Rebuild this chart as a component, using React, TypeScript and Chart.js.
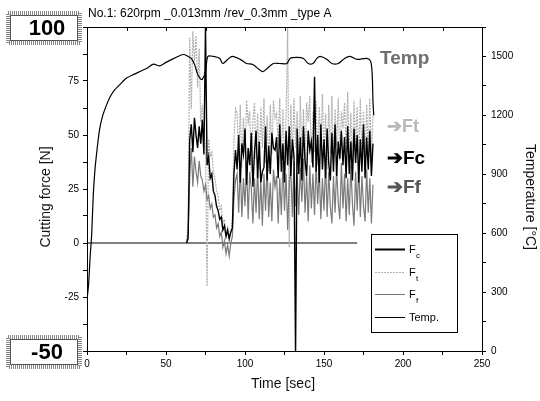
import React, { useEffect, useRef } from 'react';
import { Chart, registerables } from 'chart.js';

Chart.register(...registerables);

const FONT = "'Liberation Sans', Arial, sans-serif";

const chartTitle = 'No.1: 620rpm _0.013mm /rev_0.3mm _type A';
const xTitle = 'Time [sec]';
const yTitle = 'Cutting force [N]';
const y1Title = 'Temperature [°C]';

// Force time base (sec)
const forceTime = [
  63, 64, 65, 66, 67, 68, 69, 70, 71, 72, 73, 74, 75, 76, 77, 78, 79, 80, 81, 82,
  83, 84, 85, 86, 87, 88, 89, 90, 91, 92, 93, 94,
  95, 96, 97, 98, 99, 100, 101, 102, 103, 104,
  105, 106, 107, 108, 109, 110, 111, 112, 113, 114,
  115, 116, 117, 118, 119, 120, 121, 122, 123, 124,
  125, 126, 127, 128, 129, 130, 131, 132, 133, 134,
  135, 136, 137, 138, 139, 140, 141, 142, 143, 144,
  145, 146, 147, 148, 149, 150, 151, 152, 153, 154,
  155, 156, 157, 158, 159, 160, 161, 162, 163, 164,
  165, 166, 167, 168, 169, 170, 171, 172, 173, 174,
  175, 176, 177, 178, 179, 180, 181,
];

const fcValues = [
  0, 2, 48, 55, 42, 58, 50, 44, 54, 46, 57, 41, 100, 36, 40, 30, 32, 24, 22, 17,
  15, 11, 12, 6, 8, 3, 6, 2, 5, 7, 32, 43,
  34, 50, 28, 46, 41, 53, 27, 44, 36, 51,
  26, 42, 52, 30, 47, 28, 33, 35, 54, 29,
  45, 32, 51, 44, 43, 49, 30, 55, 33, 46,
  28, 52, 36, 54, 31, 48, 40, -52, 53, 32,
  49, 29, 54, 38, 31, 52, 43, 47, 35, 77,
  33, 50, 28, 55, 34, 48, 30, 53, 37, 29,
  51, 33, 55, 31, 47, 39, 52, 36, 49, 30,
  54, 32, 47, 29, 53, 37, 50, 28, 48, 33,
  55, 30, 49, 34, 52, 31, 46,
];

const ftValues = [
  0, 10, 95, 62, 98, 84, 96, 72, 90, 56, 64, 50, 45, -20, 48, 40, 42, 33, 30, 24,
  22, 15, 17, 9, 11, 4, 7, 1, 5, 10, 48, 62,
  60, 38, 64, 35, 58, 42, 66, 56, 61, 33,
  57, 65, 39, 60, 34, 63, 44, 67, 37, 59,
  33, 64, 41, 66, 58, 60, 45, 67, 38, 62,
  35, 59, 100, -2, 64, 39, 67, 44, 61, 35,
  68, 40, 62, 34, 65, 56, 68, 37, 61, 42,
  66, 36, 63, 43, 69, 38, 60, 34, 64, 41,
  68, 37, 62, 45, 67, 38, 61, 53, 65, 42,
  70, 39, 60, 35, 66, 44, 63, 37, 67, 40,
  61, 34, 64, 42, 67, 38, 59,
];

const ffValues = [
  0, 4, 30, 44, 26, 40, 33, 28, 38, 31, 29, 24, 27, 20, 22, 16, 18, 12, 13, 7,
  9, 3, 5, -2, 1, -5, -1, -6, 0, 3, 20, 29,
  32, 14, 36, 12, 30, 17, 38, 11, 33, 25,
  9, 30, 14, 35, 11, 29, 8, 32, 15, 36,
  12, 28, 10, 34, 26, 31, 9, 30, 13, 37,
  15, 32, 6, 28, 34, 12, 38, 17, 33, 13,
  35, 19, 39, 14, 31, 10, 36, 16, 32, 13,
  37, 18, 34, 11, 30, 15, 38, 12, 33, 17,
  9, 31, 14, 35, 19, 11, 37, 16, 32, 10,
  30, 13, 36, 18, 8, 33, 15, 36, 12, 31,
  17, 10, 34, 14, 30, 9, 27,
];

// Temperature (right axis)
const tempTime = [
  0, 1, 2, 3, 4, 5, 6, 8, 10, 12.5,
  15, 17.5, 20, 25, 30, 34, 38, 42, 46, 50,
  55, 61, 64, 66, 68, 70, 72, 73, 75, 76.5,
  80, 84, 86, 89, 92, 97, 101, 105, 111, 114,
  118, 122, 126.5, 128.5, 133, 137, 140, 143, 145.5, 147.5,
  152, 155, 159, 163, 166.5, 171, 177, 179.5, 180.5, 181,
  181.5,
];
const tempValues = [
  260, 340, 480, 600, 800, 920, 1000, 1130, 1200, 1256,
  1300, 1330, 1350, 1390, 1410, 1425, 1440, 1461, 1452, 1470,
  1490, 1510, 1500, 1490, 1460, 1410, 1385, 1383, 1423, 1500,
  1500, 1490, 1464, 1485, 1500, 1485, 1464, 1459, 1423, 1439,
  1464, 1464, 1464, 1490, 1495, 1490, 1464, 1464, 1490, 1500,
  1485, 1464, 1464, 1490, 1500, 1485, 1490, 1475, 1410, 1270,
  1200,
];

// zero baseline of the force signal
const baseTime = [0, 171];
const baseValues = [0, 0];

const xTicks = { min: 0, max: 250, step: 25, labelEvery: 50 };
const yTicks = { min: -50, max: 100, step: 12.5, labelEvery: 25 };
const y1Ticks = { min: 0, max: 1650, step: 150, labelEvery: 300 };

const legendItems = [
  { name: 'F', sub: 'c', color: '#000', width: 2, dash: [] as number[] },
  { name: 'F', sub: 't', color: '#b4b4b4', width: 1, dash: [2, 1] },
  { name: 'F', sub: 'f', color: '#777', width: 1, dash: [] as number[] },
  { name: 'Temp.', sub: '', color: '#000', width: 1, dash: [] as number[] },
];

const pts = (xs: number[], ys: number[]) => xs.map((x, i) => ({ x, y: ys[i] }));

const decoPlugin = {
  id: 'deco',
  afterDraw(chart: any) {
    const { ctx, chartArea: a, scales } = chart;
    ctx.save();
    // top frame with inward ticks
    ctx.strokeStyle = '#000';
    ctx.lineWidth = 1;
    ctx.beginPath();
    ctx.moveTo(a.left, a.top + 0.5);
    ctx.lineTo(a.right, a.top + 0.5);
    for (const t of scales.x.ticks) {
      const px = Math.round(scales.x.getPixelForValue(t.value)) + 0.5;
      ctx.moveTo(px, a.top);
      ctx.lineTo(px, a.top + 4);
    }
    ctx.stroke();

    // title
    ctx.fillStyle = '#000';
    ctx.font = `12px ${FONT}`;
    ctx.textAlign = 'left';
    ctx.textBaseline = 'middle';
    ctx.fillText(chartTitle, a.left + 1, 14);

    // axis titles
    ctx.font = `14px ${FONT}`;
    ctx.textAlign = 'center';
    ctx.fillStyle = '#111';
    ctx.fillText(xTitle, 283, 384);
    ctx.save();
    ctx.translate(46, 197);
    ctx.rotate(-Math.PI / 2);
    ctx.fillText(yTitle, 0, 0);
    ctx.restore();
    ctx.save();
    ctx.translate(530, 197);
    ctx.rotate(Math.PI / 2);
    ctx.fillText(y1Title, 0, 0);
    ctx.restore();

    // boxed labels
    const box = (text: string, cy: number) => {
      const x = 6, w = 76, h = 34, y = Math.round(cy - h / 2);
      ctx.fillStyle = '#fff';
      ctx.fillRect(x, y, w, h);
      ctx.setLineDash([1, 1]);
      ctx.strokeStyle = '#888';
      ctx.lineWidth = 4;
      ctx.strokeRect(x + 2, y + 2, w - 4, h - 4);
      ctx.setLineDash([]);
      ctx.strokeStyle = '#555';
      ctx.lineWidth = 1;
      ctx.strokeRect(x + 4.5, y + 4.5, w - 9, h - 9);
      ctx.fillStyle = '#000';
      ctx.font = `bold 22px ${FONT}`;
      ctx.textAlign = 'center';
      ctx.textBaseline = 'middle';
      ctx.fillText(text, x + w / 2 + 3, cy + 1);
    };
    box('100', scales.y.getPixelForValue(yTicks.max) + 1);
    box('-50', scales.y.getPixelForValue(yTicks.min) + 1);

    // in-plot annotations
    ctx.textAlign = 'left';
    ctx.textBaseline = 'middle';
    ctx.font = `bold 19px ${FONT}`;
    ctx.fillStyle = '#6e6e6e';
    ctx.fillText('Temp', 380, 59);
    ctx.fillStyle = '#b8b8b8';
    ctx.font = `bold 18px ${FONT}`;
    ctx.fillText('➔Ft', 387, 127);
    ctx.fillStyle = '#000';
    ctx.font = `bold 19px ${FONT}`;
    ctx.fillText('➔Fc', 387, 159);
    ctx.fillStyle = '#555';
    ctx.fillText('➔Ff', 387, 188);

    // legend
    const lx = 371, ly = 234, lw = 86, lh = 98;
    ctx.fillStyle = '#fff';
    ctx.fillRect(lx, ly, lw, lh);
    ctx.strokeStyle = '#000';
    ctx.lineWidth = 1;
    ctx.strokeRect(lx + 0.5, ly + 0.5, lw, lh);
    legendItems.forEach((it, i) => {
      const y = Math.round(ly + 15 + i * 22.7) + 0.5;
      ctx.strokeStyle = it.color;
      ctx.lineWidth = it.width;
      ctx.setLineDash(it.dash);
      ctx.beginPath();
      ctx.moveTo(lx + 4, y);
      ctx.lineTo(lx + 34, y);
      ctx.stroke();
      ctx.setLineDash([]);
      ctx.fillStyle = '#000';
      ctx.font = `11px ${FONT}`;
      ctx.textAlign = 'left';
      ctx.textBaseline = 'middle';
      ctx.fillText(it.name, lx + 38, y);
      if (it.sub) {
        ctx.font = `8px ${FONT}`;
        ctx.fillText(it.sub, lx + 45, y + 6);
      }
    });
    ctx.restore();
  },
};

export default function App() {
  const ref = useRef<HTMLCanvasElement | null>(null);
  useEffect(() => {
    if (!ref.current) return;
    const tickFont = { size: 10, family: FONT };
    const chart = new Chart(ref.current, {
      type: 'line',
      data: {
        datasets: [
          { label: 'Temp.', data: pts(tempTime, tempValues), yAxisID: 'y1', borderColor: '#000', borderWidth: 1.2, pointRadius: 0, tension: 0.3, order: 0 },
          { label: 'Fc', data: pts(forceTime, fcValues), yAxisID: 'y', borderColor: '#000', borderWidth: 1.4, pointRadius: 0, order: 1 },
          { label: 'Ff', data: pts(forceTime, ffValues), yAxisID: 'y', borderColor: '#7a7a7a', borderWidth: 1.2, pointRadius: 0, order: 2 },
          { label: 'Ft', data: pts(forceTime, ftValues), yAxisID: 'y', borderColor: '#b0b0b0', borderWidth: 1.2, borderDash: [2, 1], pointRadius: 0, order: 3 },
          { label: 'base', data: pts(baseTime, baseValues), yAxisID: 'y', borderColor: '#000', borderWidth: 1.2, pointRadius: 0, order: 4 },
        ],
      },
      options: {
        responsive: false,
        animation: false,
        events: [],
        layout: { padding: { top: 27, left: 0, right: 0, bottom: 0 } },
        plugins: { legend: { display: false }, tooltip: { enabled: false }, title: { display: false } },
        scales: {
          x: {
            type: 'linear', position: 'bottom', min: xTicks.min, max: xTicks.max,
            ticks: { stepSize: xTicks.step, autoSkip: false, maxRotation: 0, color: '#000', font: tickFont, padding: 3,
              callback: (v: any) => (Number(v) % xTicks.labelEvery === 0 ? String(v) : '') },
            grid: { drawOnChartArea: false, drawTicks: true, tickLength: 4, color: '#000' },
            border: { display: true, color: '#000', width: 1 },
            afterFit: (s: any) => { s.height = 50; },
          },
          y: {
            type: 'linear', position: 'left', min: yTicks.min, max: yTicks.max,
            ticks: { stepSize: yTicks.step, autoSkip: false, color: '#000', font: tickFont, padding: 4,
              callback: (v: any) => (Number(v) % yTicks.labelEvery === 0 ? String(v) : '') },
            grid: { drawOnChartArea: false, drawTicks: true, tickLength: 4, color: '#000' },
            border: { display: true, color: '#000', width: 1 },
            afterFit: (s: any) => { s.width = 87; },
          },
          y1: {
            type: 'linear', position: 'right', min: y1Ticks.min, max: y1Ticks.max,
            ticks: { stepSize: y1Ticks.step, autoSkip: false, color: '#000', font: tickFont, padding: 5,
              callback: (v: any) => (Number(v) % y1Ticks.labelEvery === 0 ? String(v) : '') },
            grid: { drawOnChartArea: false, drawTicks: true, tickLength: 4, color: '#000' },
            border: { display: true, color: '#000', width: 1 },
            afterFit: (s: any) => { s.width = 58; },
          },
        },
      },
      plugins: [decoPlugin],
    } as any);
    return () => chart.destroy();
  }, []);
  return (
    <div style={{ position: 'fixed', left: 0, top: 0, width: 540, height: 401, background: '#fff' }}>
      <canvas ref={ref} width={540} height={401} style={{ display: 'block' }} />
    </div>
  );
}
